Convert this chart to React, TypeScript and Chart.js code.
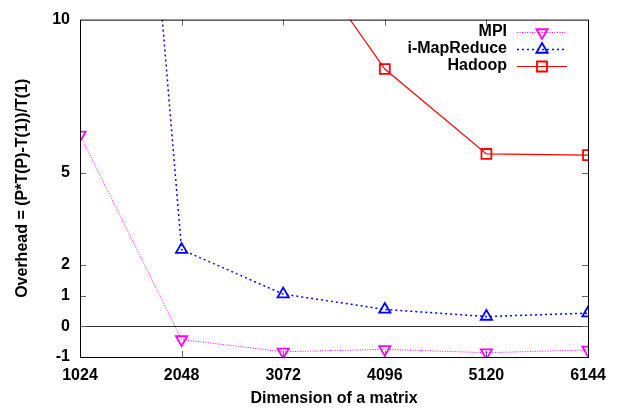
import React, { useEffect, useRef } from 'react';
import { Chart, registerables } from 'chart.js';

Chart.register(...registerables);

// ---- data ----
const SIZES = [1024, 2048, 3072, 4096, 5120, 6144];
const MPI = [6.24, -0.43, -0.83, -0.75, -0.86, -0.77];
const IMAPREDUCE = [42, 2.5, 1.05, 0.55, 0.32, 0.43];
const HADOOP: (number | null)[] = [null, null, 13.1, 8.39, 5.62, 5.58];
const X_TICKS = [1024, 2048, 3072, 4096, 5120, 6144];
const Y_TICKS = [-1, 0, 1, 2, 5, 10];
const X_TITLE = 'Dimension of a matrix';
const Y_TITLE = 'Overhead = (P*T(P)-T(1))/T(1)';

const FONT = '"Liberation Sans", Arial, Helvetica, sans-serif';

const SERIES = [
  { label: 'MPI', color: '#ff00ff', dash: [1, 1.5], width: 1, marker: 'down' },
  { label: 'i-MapReduce', color: '#0000ff', dash: [2, 3], width: 1.5, marker: 'up' },
  { label: 'Hadoop', color: '#ff0000', dash: [] as number[], width: 1.2, marker: 'square' },
];

function drawMarker(ctx: CanvasRenderingContext2D, type: string, x: number, y: number) {
  ctx.beginPath();
  const r = 6.5;
  if (type === 'square') {
    const s = 5;
    ctx.rect(x - s, y - s, 2 * s, 2 * s);
  } else if (type === 'up') {
    const w = r * Math.sin(Math.PI / 3);
    ctx.moveTo(x, y - r);
    ctx.lineTo(x + w, y + r / 2);
    ctx.lineTo(x - w, y + r / 2);
    ctx.closePath();
  } else {
    const w = r * Math.sin(Math.PI / 3);
    ctx.moveTo(x, y + r);
    ctx.lineTo(x + w, y - r / 2);
    ctx.lineTo(x - w, y - r / 2);
    ctx.closePath();
  }
  ctx.stroke();
}

const decor = {
  id: 'decor',
  beforeDatasetsDraw(chart: any) {
    const { ctx, chartArea, scales } = chart;
    const { left, right, top, bottom } = chartArea;
    const xs = scales.x;
    const ys = scales.y;
    ctx.save();
    ctx.lineWidth = 1;
    // zero line
    const y0 = Math.round(ys.getPixelForValue(0)) + 0.5;
    ctx.strokeStyle = '#333333';
    ctx.beginPath();
    ctx.moveTo(left, y0);
    ctx.lineTo(right, y0);
    ctx.stroke();
    // ticks (inward, mirrored)
    ctx.strokeStyle = '#666666';
    const tl = 6;
    X_TICKS.slice(1, -1).forEach((v) => {
      const px = Math.round(xs.getPixelForValue(v)) + 0.5;
      ctx.beginPath();
      ctx.moveTo(px, bottom);
      ctx.lineTo(px, bottom - tl);
      ctx.moveTo(px, top);
      ctx.lineTo(px, top + tl);
      ctx.stroke();
    });
    Y_TICKS.slice(1, -1).forEach((v) => {
      const py = Math.round(ys.getPixelForValue(v)) + 0.5;
      ctx.beginPath();
      ctx.moveTo(left, py);
      ctx.lineTo(left + tl, py);
      ctx.moveTo(right, py);
      ctx.lineTo(right - tl, py);
      ctx.stroke();
    });
    ctx.restore();
  },
  afterDatasetsDraw(chart: any) {
    const { ctx, chartArea } = chart;
    const { left, right, top, bottom } = chartArea;
    ctx.save();
    ctx.strokeStyle = '#000000';
    ctx.lineWidth = 1;
    ctx.strokeRect(left + 0.5, top + 0.5, right - left, bottom - top);
    // legend
    const textX = 507;
    const rows = [32, 49, 66];
    ctx.font = `bold 16px ${FONT}`;
    ctx.textAlign = 'right';
    ctx.textBaseline = 'middle';
    SERIES.forEach((s, i) => {
      const y = rows[i];
      ctx.fillStyle = '#000000';
      ctx.fillText(s.label, textX, y);
      ctx.strokeStyle = s.color;
      ctx.lineWidth = s.width;
      ctx.setLineDash(s.dash);
      ctx.beginPath();
      ctx.moveTo(517, y + 0.5);
      ctx.lineTo(567, y + 0.5);
      ctx.stroke();
      ctx.setLineDash([]);
      ctx.lineWidth = 1.8;
      drawMarker(ctx, s.marker, 542, y + 0.5);
    });
    ctx.restore();
  },
};

function makeDataset(idx: number, values: (number | null)[]) {
  const s = SERIES[idx];
  const style = s.marker === 'square' ? 'rect' : 'triangle';
  return {
    label: s.label,
    data: SIZES.map((x, i) => ({ x, y: values[i] })),
    borderColor: s.color,
    borderWidth: s.width,
    borderDash: s.dash,
    pointStyle: style,
    pointRotation: s.marker === 'down' ? 180 : 0,
    pointRadius: s.marker === 'square' ? 7 : 6.5,
    pointBorderWidth: 1.8,
    pointBorderColor: s.color,
    pointBackgroundColor: 'rgba(0,0,0,0)',
    fill: false,
    tension: 0,
    spanGaps: false,
  };
}

export default function App() {
  const ref = useRef<HTMLCanvasElement>(null);
  useEffect(() => {
    const canvas = ref.current!;
    const tickFont = { family: FONT, size: 16, weight: 'bold' as const };
    const chart = new Chart(canvas, {
      type: 'line',
      data: {
        datasets: [
          makeDataset(0, MPI),
          makeDataset(1, IMAPREDUCE),
          makeDataset(2, HADOOP),
        ] as any,
      },
      options: {
        responsive: false,
        animation: false,
        devicePixelRatio: 1,
        layout: { padding: { top: 16, right: 31, left: 0, bottom: 0 } },
        plugins: { legend: { display: false }, tooltip: { enabled: false } },
        scales: {
          x: {
            type: 'linear',
            min: 1024,
            max: 6144,
            afterBuildTicks: (s: any) => {
              s.ticks = X_TICKS.map((v) => ({ value: v }));
            },
            afterFit: (s: any) => {
              s.height = 54;
            },
            grid: { display: false, drawTicks: false },
            border: { display: false },
            ticks: {
              font: tickFont,
              color: '#000000',
              padding: 9,
              maxRotation: 0,
              autoSkip: false,
              callback: (v: any) => String(v),
            },
            title: {
              display: true,
              text: X_TITLE,
              font: tickFont,
              color: '#000000',
              padding: { top: 0, bottom: 3 },
            },
          },
          y: {
            type: 'linear',
            min: -1,
            max: 10,
            afterBuildTicks: (s: any) => {
              s.ticks = Y_TICKS.map((v) => ({ value: v }));
            },
            afterFit: (s: any) => {
              s.width = 80;
            },
            grid: { display: false, drawTicks: false },
            border: { display: false },
            ticks: {
              font: tickFont,
              color: '#000000',
              padding: 10,
              autoSkip: false,
              callback: (v: any) => String(v),
            },
            title: {
              display: true,
              text: Y_TITLE,
              font: tickFont,
              color: '#000000',
              padding: { top: 13, bottom: 0 },
            },
          },
        },
      },
      plugins: [decor],
    });
    return () => chart.destroy();
  }, []);
  return (
    <div style={{ position: 'absolute', left: 0, top: 0, width: 619, height: 411, background: '#ffffff' }}>
      <canvas ref={ref} width={619} height={411} style={{ display: 'block' }} />
    </div>
  );
}
